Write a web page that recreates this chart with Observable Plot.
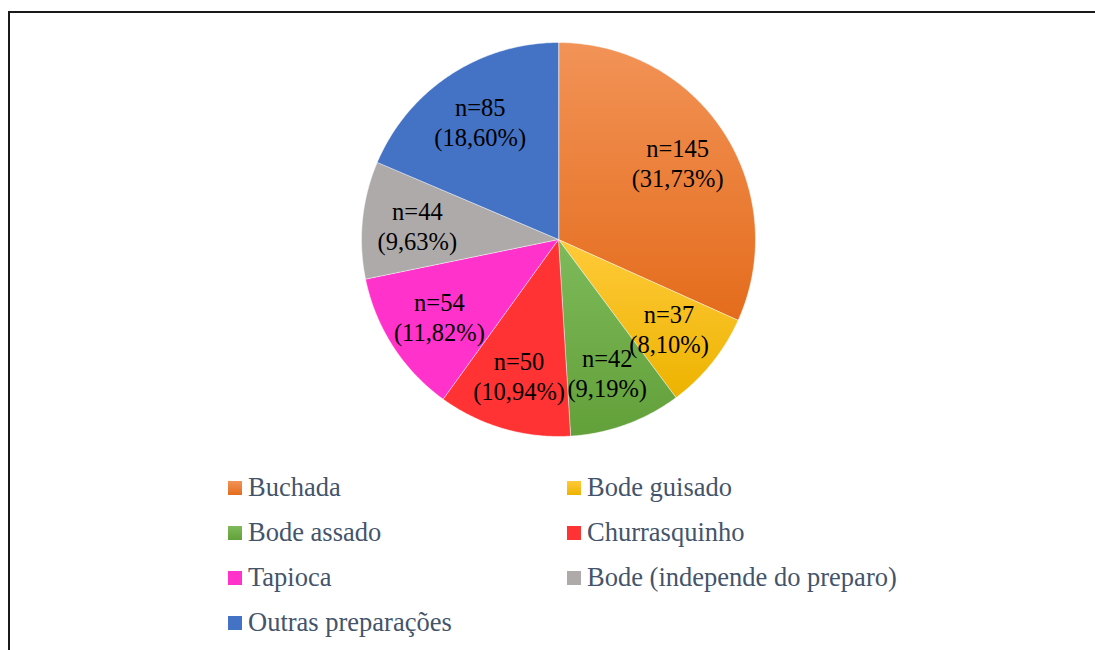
<!DOCTYPE html>
<html>
<head>
<meta charset="utf-8">
<script src="https://cdn.jsdelivr.net/npm/d3@7"></script>
<script src="https://cdn.jsdelivr.net/npm/@observablehq/plot@0.6"></script>
<style>
  html, body { margin: 0; padding: 0; background: #fff; width: 1095px; height: 650px; overflow: hidden; }
  #frame { position: absolute; left: 8px; top: 11px; width: 1200px; height: 800px; border: 2px solid #1a1a1a; box-sizing: border-box; }
  #chart { position: absolute; left: 0; top: 0; }
  #legend { position: absolute; left: 228px; top: 465px; display: grid; grid-template-columns: 339px auto; grid-auto-rows: 45px; align-items: center;
            font-family: "Liberation Serif", "Times New Roman", serif; font-size: 26.5px; color: #44546A; }
  .item { display: flex; align-items: center; white-space: nowrap; }
  .sw { width: 14px; height: 14px; margin-right: 6px; flex: none; }
</style>
</head>
<body>
<div id="frame"></div>
<div id="chart"></div>
<div id="legend"></div>
<script>
const categories = ["Buchada", "Bode guisado", "Bode assado", "Churrasquinho", "Tapioca", "Bode (independe do preparo)", "Outras preparações"];
const counts = [145, 37, 42, 50, 54, 44, 85];
const colorTop = ["#F29357", "#FFCA3A", "#7EBA5A", "#FF3333", "#FF33CC", "#AEAAAA", "#4472C4"];
const colorBottom = ["#E46C1C", "#EDB300", "#62A03A", "#FF3333", "#FF33CC", "#AEAAAA", "#4472C4"];

const W = 1095, H = 460, cx = 558, cy = 239, R = 197;
const total = d3.sum(counts);
const arcs = d3.pie().sort(null).value(d => d)(counts);

const pts = [];
arcs.forEach((a, i) => {
  pts.push({cat: categories[i], x: 0, y: 0});
  const n = Math.max(2, Math.ceil((a.endAngle - a.startAngle) / 0.01));
  for (let k = 0; k <= n; k++) {
    const t = a.startAngle + (a.endAngle - a.startAngle) * k / n;
    pts.push({cat: categories[i], x: Math.sin(t), y: Math.cos(t)});
  }
});

const labels = arcs.map((a, i) => {
  const m = (a.startAngle + a.endAngle) / 2;
  const pct = (counts[i] / total * 100).toFixed(2).replace(".", ",");
  return {x: 0.72 * Math.sin(m), y: 0.72 * Math.cos(m), text: `n=${counts[i]}\n(${pct}%)`};
});

const svg = Plot.plot({
  width: W, height: H, margin: 0,
  x: {domain: [-cx / R, (W - cx) / R], axis: null},
  y: {domain: [-(H - cy) / R, cy / R], axis: null},
  color: {type: "ordinal", domain: categories, range: categories.map((_, i) => `url(#grad${i})`)},
  style: {background: "transparent"},
  marks: [
    Plot.line(pts, {x: "x", y: "y", z: "cat", fill: "cat", stroke: "white", strokeWidth: 0.5, curve: "linear-closed"}),
    Plot.text(labels, {x: "x", y: "y", text: "text", fontSize: 24.5, fontFamily: "Liberation Serif", fill: "#000", lineHeight: 1.22})
  ]
});
const defs = d3.select(svg).insert("defs", ":first-child");
categories.forEach((c, i) => {
  const g = defs.append("linearGradient").attr("id", `grad${i}`).attr("x1", 0).attr("y1", 0).attr("x2", 0).attr("y2", 1);
  g.append("stop").attr("offset", "0%").attr("stop-color", colorTop[i]);
  g.append("stop").attr("offset", "100%").attr("stop-color", colorBottom[i]);
});
document.getElementById("chart").appendChild(svg);

const legend = d3.select("#legend");
categories.forEach((c, i) => {
  const it = legend.append("div").attr("class", "item");
  it.append("div").attr("class", "sw").style("background", `linear-gradient(${colorTop[i]}, ${colorBottom[i]})`);
  it.append("span").text(c);
});
</script>
</body>
</html>
